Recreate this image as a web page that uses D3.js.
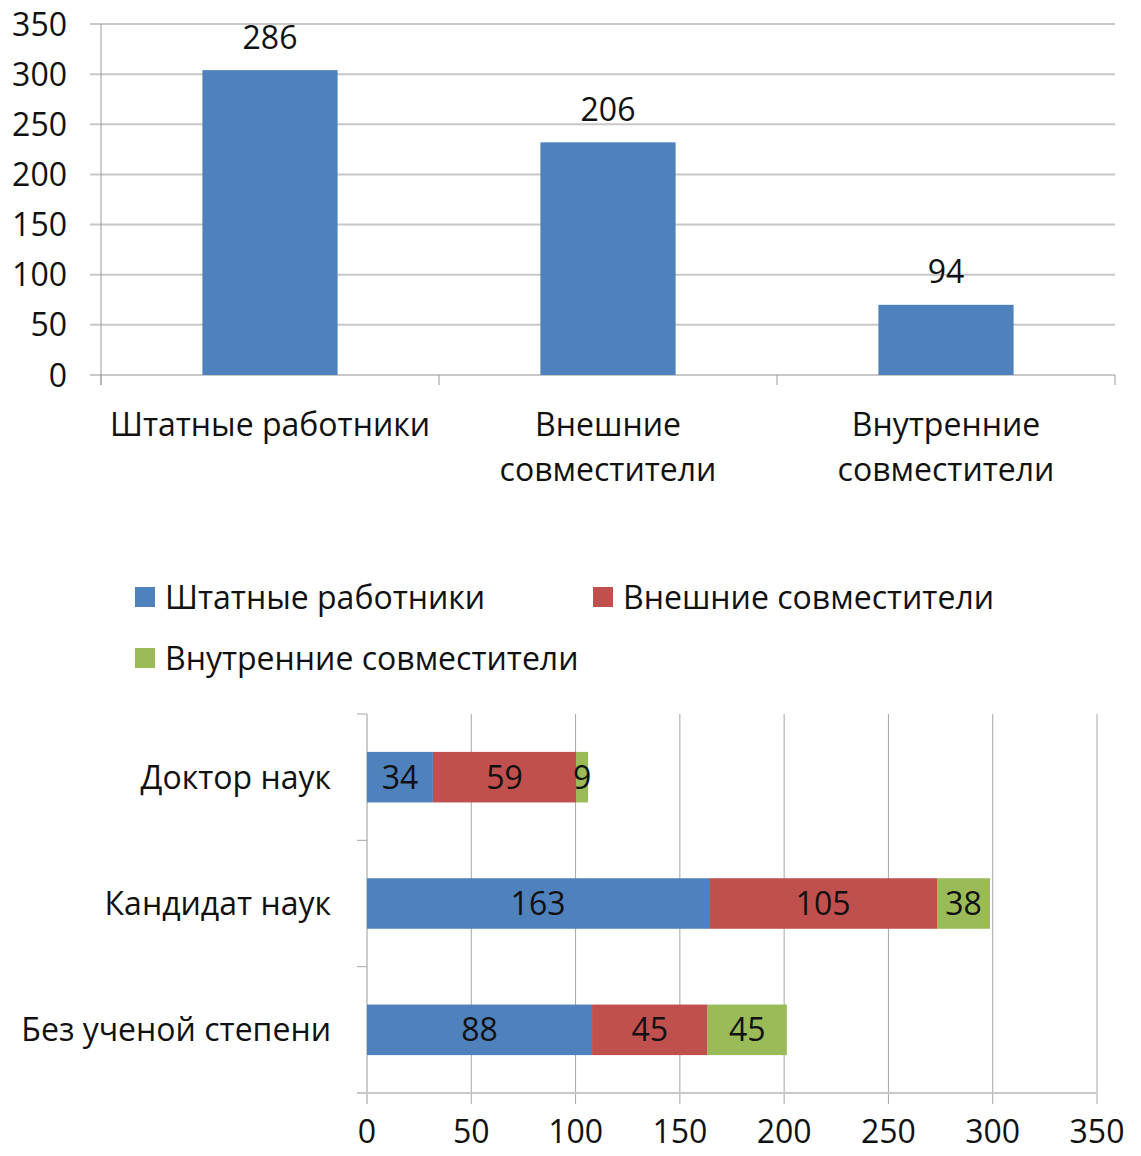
<!DOCTYPE html>
<html>
<head>
<meta charset="utf-8">
<script src="https://cdn.jsdelivr.net/npm/d3@7"></script>
<style>
    body { margin: 0; background: #fff; }
    text { font-family: "Open Sans", sans-serif; fill: #111; }
</style>
</head>
<body>
<div id="chart"></div>
<script>
// top chart: total by employment type
const topCategories = ["Штатные работники", "Внешние совместители", "Внутренние совместители"];
const topCategoryLines = [["Штатные работники"], ["Внешние", "совместители"], ["Внутренние", "совместители"]];
const topBarValues = [304, 232, 70];     // bar heights as drawn
const topBarLabels = [286, 206, 94];     // printed data labels
const topTicks = [0, 50, 100, 150, 200, 250, 300, 350];

// bottom chart: by academic degree, stacked
const degrees = ["Доктор наук", "Кандидат наук", "Без ученой степени"];
const seriesNames = ["Штатные работники", "Внешние совместители", "Внутренние совместители"];
const seriesColors = ["#4F81BD", "#C0504D", "#9BBB59"];
const staffValues = [31.6, 164, 107.9];
const externalValues = [68.6, 109.3, 55.4];
const internalValues = [5.8, 25.4, 38];
const staffLabels = [34, 163, 88];
const externalLabels = [59, 105, 45];
const internalLabels = [9, 38, 45];
const bottomTicks = [0, 50, 100, 150, 200, 250, 300, 350];

const width = 1141;
const height = 1156;
const fontSize = 32;

const svg = d3.select("#chart").append("svg")
    .attr("width", width)
    .attr("height", height)
    .style("font-size", fontSize + "px");

// ---------- top chart ----------
const x1 = d3.scaleBand()
    .domain(topCategories)
    .range([101, 1115])
    .paddingInner(0.6)
    .paddingOuter(0.3);

const y1 = d3.scaleLinear()
    .domain([0, 350])
    .range([375, 24]);

const topG = svg.append("g");

topG.append("g")
    .selectAll("line")
    .data(topTicks)
    .join("line")
    .attr("x1", 90)
    .attr("x2", 1115)
    .attr("y1", d => y1(d))
    .attr("y2", d => y1(d))
    .attr("stroke", "#c8c8c8")
    .attr("stroke-width", 2);

topG.append("line")
    .attr("x1", 101).attr("x2", 101)
    .attr("y1", y1(350)).attr("y2", 385)
    .attr("stroke", "#9a9a9a");

// category boundary ticks
const bounds = [101].concat(topCategories.map(c => x1(c) + x1.bandwidth() + x1.step() * 0.3));
topG.append("g")
    .selectAll("line")
    .data(bounds)
    .join("line")
    .attr("x1", d => d).attr("x2", d => d)
    .attr("y1", y1(0)).attr("y2", 385)
    .attr("stroke", "#9a9a9a");

topG.append("g")
    .selectAll("text")
    .data(topTicks)
    .join("text")
    .attr("x", 67)
    .attr("y", d => y1(d))
    .attr("dy", "0.36em")
    .attr("text-anchor", "end")
    .text(d => d);

topG.append("g")
    .selectAll("rect")
    .data(topBarValues)
    .join("rect")
    .attr("x", (d, i) => x1(topCategories[i]))
    .attr("y", d => y1(d))
    .attr("width", x1.bandwidth())
    .attr("height", d => y1(0) - y1(d))
    .attr("fill", "#4F81BD");

topG.append("g")
    .selectAll("text")
    .data(topBarValues)
    .join("text")
    .attr("x", (d, i) => x1(topCategories[i]) + x1.bandwidth() / 2)
    .attr("y", d => y1(d) - 33)
    .attr("dy", "0.36em")
    .attr("text-anchor", "middle")
    .text((d, i) => topBarLabels[i]);

topG.append("g")
    .selectAll("text")
    .data(topCategories)
    .join("text")
    .attr("text-anchor", "middle")
    .attr("transform", d => `translate(${x1(d) + x1.bandwidth() / 2},424)`)
    .each(function (d, i) {
        d3.select(this).selectAll("tspan")
            .data(topCategoryLines[i])
            .join("tspan")
            .attr("x", 0)
            .attr("y", (t, j) => j * 45)
            .attr("dy", "0.36em")
            .text(t => t);
    });

// ---------- legend ----------
const legendPos = [[135, 597], [593, 597], [135, 658]];
const legend = svg.append("g")
    .selectAll("g")
    .data(seriesNames)
    .join("g")
    .attr("transform", (d, i) => `translate(${legendPos[i][0]},${legendPos[i][1]})`);

legend.append("rect")
    .attr("x", 0).attr("y", -10)
    .attr("width", 20).attr("height", 20)
    .attr("fill", (d, i) => seriesColors[i]);

legend.append("text")
    .attr("x", 30)
    .attr("dy", "0.36em")
    .text(d => d);

// ---------- bottom chart ----------
const x2 = d3.scaleLinear()
    .domain([0, 350])
    .range([367, 1097]);

const y2 = d3.scaleBand()
    .domain(degrees)
    .range([714, 1093])
    .paddingInner(0.6)
    .paddingOuter(0.3);

const rows = degrees.map((name, i) => ({
    name: name,
    staff: staffValues[i],
    external: externalValues[i],
    internal: internalValues[i]
}));
const rowLabels = [staffLabels, externalLabels, internalLabels];

const stack = d3.stack().keys(["staff", "external", "internal"]);
const series = stack(rows);

const bottomG = svg.append("g");

bottomG.append("g")
    .selectAll("line")
    .data(bottomTicks.slice(1))
    .join("line")
    .attr("x1", d => x2(d)).attr("x2", d => x2(d))
    .attr("y1", 714).attr("y2", 1104)
    .attr("stroke", "#a6a6a6");

bottomG.append("line")
    .attr("x1", x2(0)).attr("x2", x2(0))
    .attr("y1", 714).attr("y2", 1104)
    .attr("stroke", "#9a9a9a");

bottomG.append("line")
    .attr("x1", 357).attr("x2", x2(350))
    .attr("y1", 1093).attr("y2", 1093)
    .attr("stroke", "#c8c8c8")
    .attr("stroke-width", 2);

// category boundary ticks on the y axis
const rowBounds = [714].concat(degrees.map(d => y2(d) + y2.bandwidth() + y2.step() * 0.3));
bottomG.append("g")
    .selectAll("line")
    .data(rowBounds.slice(0, 3))
    .join("line")
    .attr("x1", 357).attr("x2", x2(0))
    .attr("y1", d => d).attr("y2", d => d)
    .attr("stroke", "#a6a6a6");

bottomG.append("g")
    .selectAll("text")
    .data(bottomTicks)
    .join("text")
    .attr("x", d => x2(d))
    .attr("y", 1131)
    .attr("dy", "0.36em")
    .attr("text-anchor", "middle")
    .text(d => d);

bottomG.append("g")
    .selectAll("text")
    .data(degrees)
    .join("text")
    .attr("x", 331)
    .attr("y", d => y2(d) + y2.bandwidth() / 2)
    .attr("dy", "0.36em")
    .attr("text-anchor", "end")
    .text(d => d);

const layer = bottomG.append("g")
    .selectAll("g")
    .data(series)
    .join("g")
    .attr("fill", (d, i) => seriesColors[i]);

layer.selectAll("rect")
    .data(d => d)
    .join("rect")
    .attr("x", d => x2(d[0]))
    .attr("y", d => y2(d.data.name))
    .attr("width", d => x2(d[1]) - x2(d[0]))
    .attr("height", y2.bandwidth());

const barLabels = bottomG.append("g");
series.forEach((s, si) => {
    barLabels.append("g")
        .selectAll("text")
        .data(s)
        .join("text")
        .attr("x", d => (x2(d[0]) + x2(d[1])) / 2)
        .attr("y", d => y2(d.data.name) + y2.bandwidth() / 2)
        .attr("dy", "0.36em")
        .attr("text-anchor", "middle")
        .text((d, i) => rowLabels[si][i]);
});
</script>
</body>
</html>
